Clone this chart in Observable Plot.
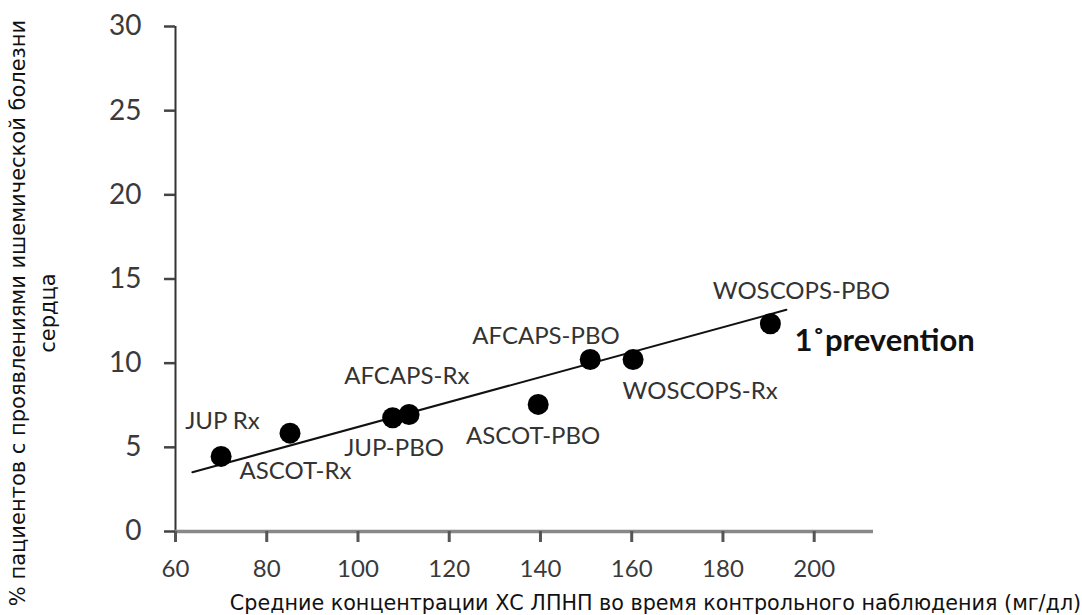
<!DOCTYPE html>
<html><head><meta charset="utf-8">
<script src="https://cdn.jsdelivr.net/npm/d3@7"></script>
<script src="https://cdn.jsdelivr.net/npm/@observablehq/plot@0.6"></script>
<style>html,body{margin:0;padding:0;background:#fff}</style>
</head><body><div id="chart"></div>
<script>
// Trials (point names), LDL-C during follow-up (mg/dl), % patients with CHD events
const studies = ["JUP Rx", "ASCOT-Rx", "JUP-PBO", "AFCAPS-Rx", "ASCOT-PBO", "AFCAPS-PBO", "WOSCOPS-Rx", "WOSCOPS-PBO"];
const ldl = [70.0, 85.1, 107.6, 111.2, 139.5, 150.9, 160.3, 190.4];
const chd = [4.46, 5.84, 6.76, 6.95, 7.55, 10.22, 10.22, 12.34];
// label anchor points (data units)
const labelX = [70.3, 86.3, 107.9, 110.7, 138.4, 141.2, 175.0, 197.2];
const labelY = [6.54, 3.57, 4.93, 9.21, 5.64, 11.59, 8.32, 14.26];
// fitted line end points
const fitX = [63.7, 193.9];
const fitY = [3.52, 13.17];
// axis ticks
const xTicks = [60, 80, 100, 120, 140, 160, 180, 200];
const yTicks = [0, 5, 10, 15, 20, 25, 30];
const groupLabel = "1˚prevention";
const groupX = 195.7, groupY = 11.29;
const xTitle = "Средние концентрации ХС ЛПНП во время контрольного наблюдения (мг/дл)";
const yTitle = "% пациентов с проявлениями ишемической болезни\nсердца";

const idx = d3.range(studies.length);
const fit = fitX.map((x, i) => ({x, y: fitY[i]}));

const chart = Plot.plot({
  width: 1082,
  height: 615,
  marginLeft: 175,
  marginRight: 209,
  marginTop: 26,
  marginBottom: 84,
  style: {fontFamily: "Lato", background: "#fff", color: "#3a3a3a", overflow: "visible"},
  x: {domain: [60, 213], axis: null},
  y: {domain: [0, 30], axis: null},
  marks: [
    Plot.ruleX([60], {y1: 0, y2: 30, stroke: "#333", strokeWidth: 2}),
    Plot.ruleY([0], {x1: 60, x2: 213, stroke: "#888", strokeWidth: 3.5}),
    Plot.line(fit, {x: "x", y: "y", stroke: "#111", strokeWidth: 2}),
    Plot.dot(idx, {x: i => ldl[i], y: i => chd[i], r: 10.5, fill: "#000", stroke: "none"}),
    Plot.text(idx, {x: i => labelX[i], y: i => labelY[i], text: i => studies[i], fontSize: 24, fill: "#333", lineAnchor: "middle"}),
    Plot.text([groupLabel], {x: groupX, y: groupY, text: d => d, textAnchor: "start", lineAnchor: "middle", fontSize: 31, fontWeight: "bold", fill: "#111"}),
    Plot.text([xTitle], {frameAnchor: "bottom", dx: 131, dy: 72, text: d => d, textAnchor: "middle", lineAnchor: "middle", fontSize: 20.7, fontFamily: "DejaVu Sans", fill: "#111"}),
    Plot.text([yTitle], {frameAnchor: "left", dx: -145, dy: 34, text: d => d, rotate: -90, textAnchor: "middle", lineAnchor: "middle", lineHeight: 1.45, fontSize: 21, fontFamily: "DejaVu Sans", fill: "#111"}),
    Plot.axisX({ticks: xTicks, anchor: "bottom", tickSize: 11, tickPadding: 17, tickFormat: d => d, label: null, fontSize: 24, stroke: "#555", strokeWidth: 3}),
    Plot.axisY({ticks: yTicks, anchor: "left", tickSize: 11, tickPadding: 23, tickFormat: d => d, label: null, fontSize: 28, stroke: "#444", strokeWidth: 2.5})
  ]
});
document.getElementById("chart").appendChild(chart);
</script>
</body></html>
